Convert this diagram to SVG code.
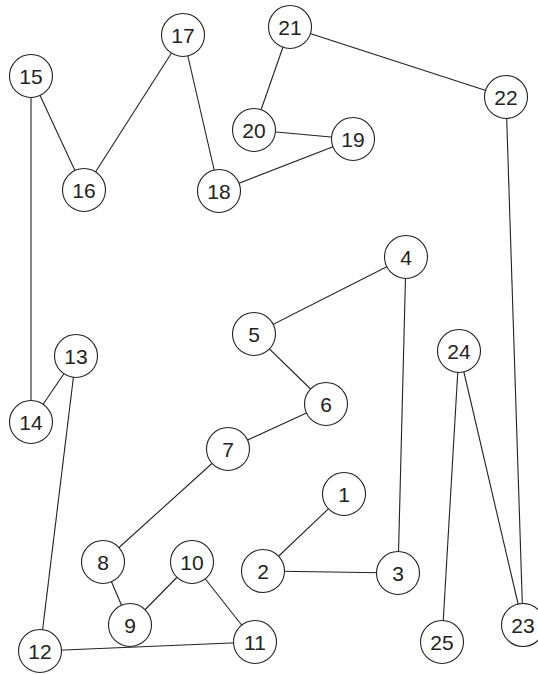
<svg xmlns="http://www.w3.org/2000/svg" width="538" height="675" viewBox="0 0 538 675">
<style>
.e{stroke:#222;stroke-width:1.1;fill:none}
.n circle{fill:#fff;stroke:#222;stroke-width:1.1}
.n text{font-family:"Liberation Sans",Arial,sans-serif;font-size:21px;fill:#222;text-anchor:middle}
</style>
<rect width="538" height="675" fill="#fff"/>
<g id="connectors">
<line class="e" x1="344" y1="494" x2="263" y2="571"/>
<line class="e" x1="263" y1="571" x2="398" y2="573"/>
<line class="e" x1="398" y1="573" x2="406" y2="257"/>
<line class="e" x1="406" y1="257" x2="254" y2="334"/>
<line class="e" x1="254" y1="334" x2="326" y2="404"/>
<line class="e" x1="326" y1="404" x2="228" y2="449"/>
<line class="e" x1="228" y1="449" x2="103" y2="562"/>
<line class="e" x1="103" y1="562" x2="130" y2="625"/>
<line class="e" x1="130" y1="625" x2="192" y2="562"/>
<line class="e" x1="192" y1="562" x2="255" y2="642"/>
<line class="e" x1="255" y1="642" x2="40" y2="651"/>
<line class="e" x1="40" y1="651" x2="76" y2="356"/>
<line class="e" x1="76" y1="356" x2="31" y2="422"/>
<line class="e" x1="31" y1="422" x2="31" y2="76"/>
<line class="e" x1="31" y1="76" x2="84" y2="190"/>
<line class="e" x1="84" y1="190" x2="183" y2="35"/>
<line class="e" x1="183" y1="35" x2="219" y2="191"/>
<line class="e" x1="219" y1="191" x2="353" y2="139"/>
<line class="e" x1="353" y1="139" x2="254" y2="130"/>
<line class="e" x1="254" y1="130" x2="290" y2="27"/>
<line class="e" x1="290" y1="27" x2="506" y2="97"/>
<line class="e" x1="506" y1="97" x2="523" y2="625"/>
<line class="e" x1="523" y1="625" x2="459" y2="351"/>
<line class="e" x1="459" y1="351" x2="442" y2="642"/>
</g>
<g id="n1" class="n"><circle cx="344" cy="494" r="21.5"/><text x="344" y="501.5">1</text></g>
<g id="n2" class="n"><circle cx="263" cy="571" r="21.5"/><text x="263" y="578.5">2</text></g>
<g id="n3" class="n"><circle cx="398" cy="573" r="21.5"/><text x="398" y="580.5">3</text></g>
<g id="n4" class="n"><circle cx="406" cy="257" r="21.5"/><text x="406" y="264.5">4</text></g>
<g id="n5" class="n"><circle cx="254" cy="334" r="21.5"/><text x="254" y="341.5">5</text></g>
<g id="n6" class="n"><circle cx="326" cy="404" r="21.5"/><text x="326" y="411.5">6</text></g>
<g id="n7" class="n"><circle cx="228" cy="449" r="21.5"/><text x="228" y="456.5">7</text></g>
<g id="n8" class="n"><circle cx="103" cy="562" r="21.5"/><text x="103" y="569.5">8</text></g>
<g id="n9" class="n"><circle cx="130" cy="625" r="21.5"/><text x="130" y="632.5">9</text></g>
<g id="n10" class="n"><circle cx="192" cy="562" r="21.5"/><text x="192" y="569.5">10</text></g>
<g id="n11" class="n"><circle cx="255" cy="642" r="21.5"/><text x="255" y="649.5">11</text></g>
<g id="n12" class="n"><circle cx="40" cy="651" r="21.5"/><text x="40" y="658.5">12</text></g>
<g id="n13" class="n"><circle cx="76" cy="356" r="21.5"/><text x="76" y="363.5">13</text></g>
<g id="n14" class="n"><circle cx="31" cy="422" r="21.5"/><text x="31" y="429.5">14</text></g>
<g id="n15" class="n"><circle cx="31" cy="76" r="21.5"/><text x="31" y="83.5">15</text></g>
<g id="n16" class="n"><circle cx="84" cy="190" r="21.5"/><text x="84" y="197.5">16</text></g>
<g id="n17" class="n"><circle cx="183" cy="35" r="21.5"/><text x="183" y="42.5">17</text></g>
<g id="n18" class="n"><circle cx="219" cy="191" r="21.5"/><text x="219" y="198.5">18</text></g>
<g id="n19" class="n"><circle cx="353" cy="139" r="21.5"/><text x="353" y="146.5">19</text></g>
<g id="n20" class="n"><circle cx="254" cy="130" r="21.5"/><text x="254" y="137.5">20</text></g>
<g id="n21" class="n"><circle cx="290" cy="27" r="21.5"/><text x="290" y="34.5">21</text></g>
<g id="n22" class="n"><circle cx="506" cy="97" r="21.5"/><text x="506" y="104.5">22</text></g>
<g id="n23" class="n"><circle cx="523" cy="625" r="21.5"/><text x="523" y="632.5">23</text></g>
<g id="n24" class="n"><circle cx="459" cy="351" r="21.5"/><text x="459" y="358.5">24</text></g>
<g id="n25" class="n"><circle cx="442" cy="642" r="21.5"/><text x="442" y="649.5">25</text></g>
</svg>
